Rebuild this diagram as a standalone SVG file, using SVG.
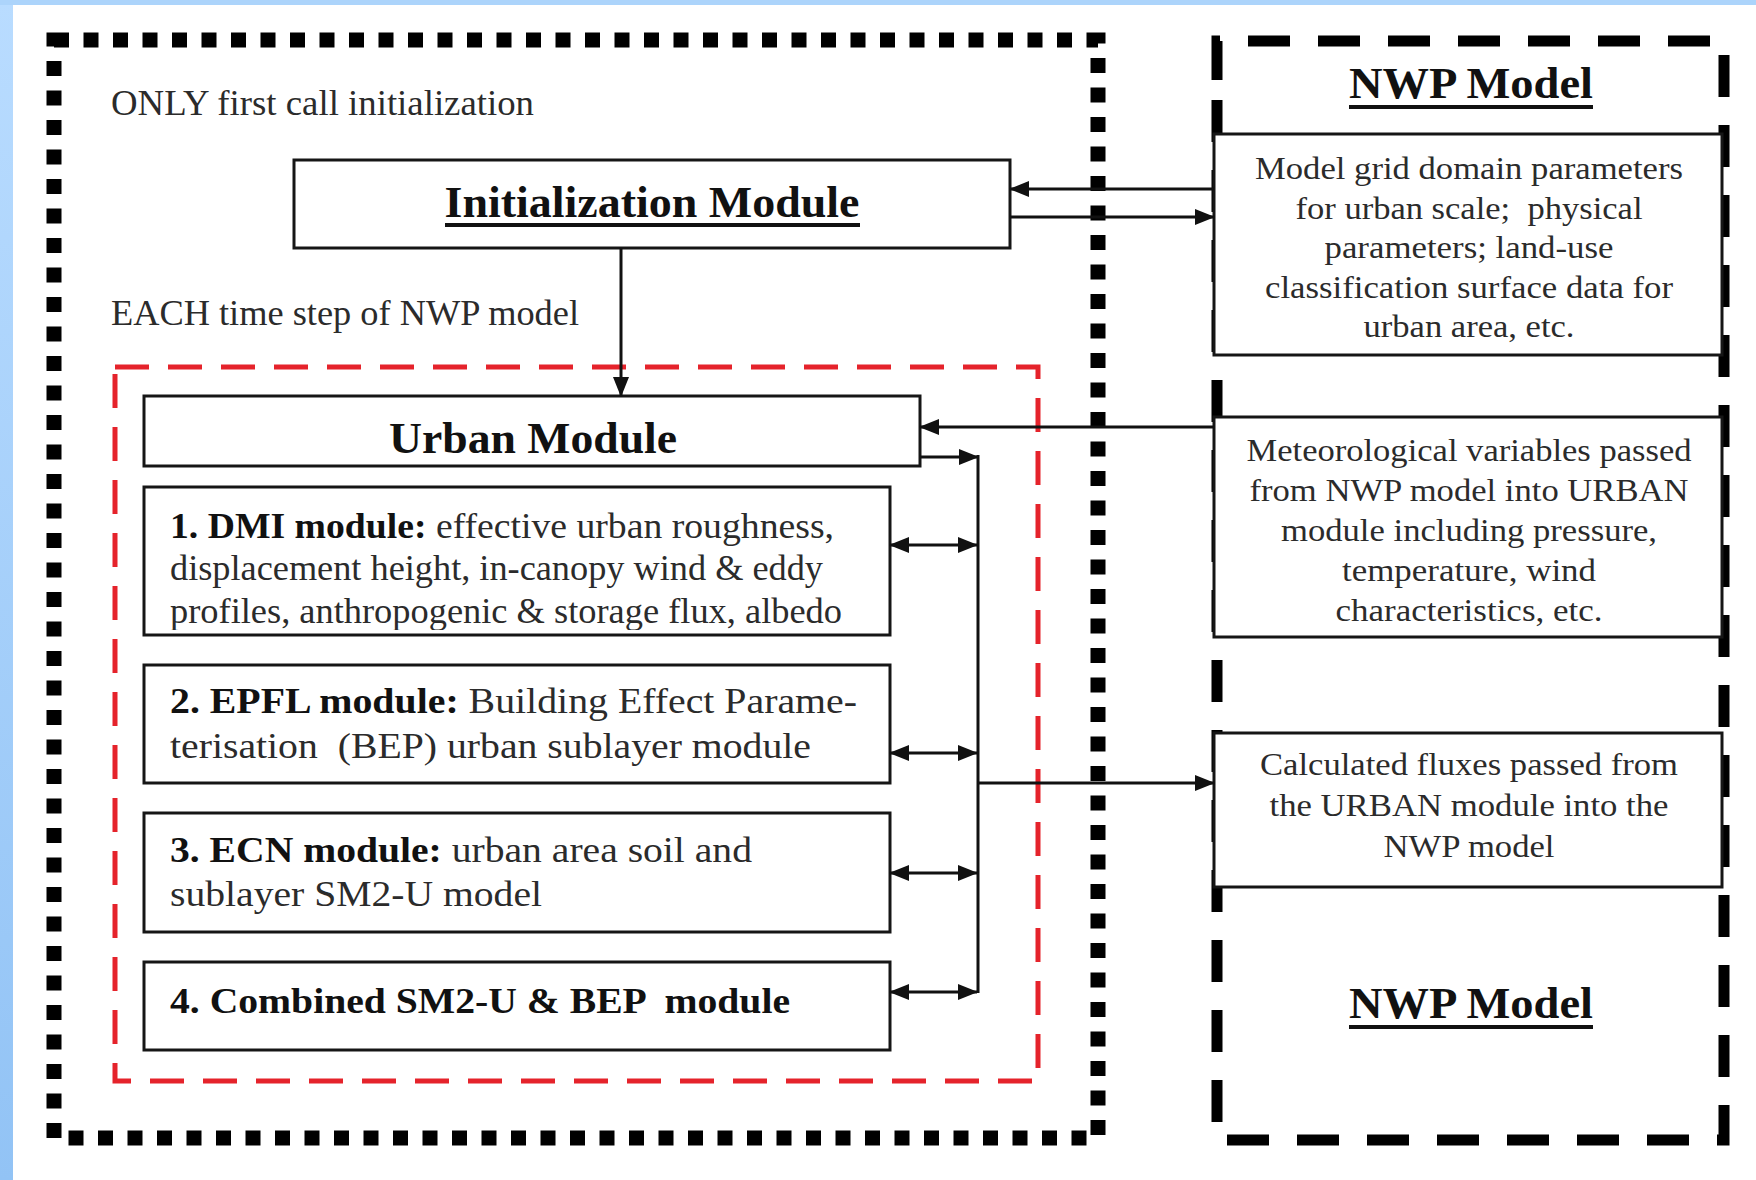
<svg xmlns="http://www.w3.org/2000/svg" width="1756" height="1180" viewBox="0 0 1756 1180">
<defs>
<linearGradient id="bg" x1="0" y1="0" x2="0" y2="1">
<stop offset="0" stop-color="#b9dcff"/>
<stop offset="1" stop-color="#92c3f5"/>
</linearGradient>
<marker id="ah" viewBox="0 0 20 16" refX="19" refY="8" markerWidth="20" markerHeight="16" orient="auto-start-reverse" markerUnits="userSpaceOnUse">
<path d="M0,0 L20,8 L0,16 Z" fill="#111"/>
</marker>
<clipPath id="dmiclip"><rect x="145" y="488" width="744" height="142"/></clipPath>
<style>
.t{font-family:"Liberation Serif","Times New Roman",serif;fill:#2b2b2b}
.b{font-weight:bold;fill:#111}
.body{font-size:35px}
.rt{font-size:32px;text-anchor:middle}
.ttl{font-size:44px;font-weight:bold;text-anchor:middle;fill:#111}
.box{fill:#fff;stroke:#161616;stroke-width:3}
.ul{stroke:#111;stroke-width:4}
.con{fill:none;stroke:#111;stroke-width:3}
</style>
</defs>
<rect width="1756" height="1180" fill="#fff"/>
<rect x="0" y="0" width="13" height="1180" fill="url(#bg)"/>
<rect x="0" y="0" width="1756" height="5" fill="#acd4fb"/>

<g id="outer-frame">
<path d="M54,40 H1098 V1138 H54 Z" fill="none" stroke="#000" stroke-width="15" stroke-dasharray="15 14.5"/>
</g>
<g id="urban-frame">
<rect x="115" y="367" width="923" height="714" fill="none" stroke="#e5232b" stroke-width="5" stroke-dasharray="34 19"/>
</g>
<g id="nwp-frame">
<path d="M1217,80 V41 H1724 V1140 H1217 Z" fill="none" stroke="#000" stroke-width="11" stroke-dasharray="42 28"/>
</g>

<g id="label-first-call">
<text class="t body" x="111" y="115" textLength="423" lengthAdjust="spacingAndGlyphs">ONLY first call initialization</text>
</g>
<g id="label-each-step">
<text class="t body" x="111" y="325" textLength="468" lengthAdjust="spacingAndGlyphs">EACH time step of NWP model</text>
</g>

<g id="init-module">
<rect class="box" x="294" y="160" width="716" height="88"/>
<text class="t ttl" x="652" y="217" textLength="415" lengthAdjust="spacingAndGlyphs">Initialization Module</text>
<line class="ul" x1="445" y1="225" x2="860" y2="225"/>
</g>

<g id="urban-module">
<rect class="box" x="144" y="396" width="776" height="70"/>
<text class="t ttl" x="533" y="453" textLength="288" lengthAdjust="spacingAndGlyphs">Urban Module</text>
</g>

<g id="dmi-module">
<rect class="box" x="144" y="487" width="746" height="148"/>
<g clip-path="url(#dmiclip)">
<text class="t body" x="170" y="538" textLength="664" lengthAdjust="spacingAndGlyphs"><tspan class="b">1. DMI module:</tspan> effective urban roughness,</text>
<text class="t body" x="170" y="580" textLength="653" lengthAdjust="spacingAndGlyphs">displacement height, in-canopy wind &amp; eddy</text>
<text class="t body" x="170" y="623" textLength="672" lengthAdjust="spacingAndGlyphs">profiles, anthropogenic &amp; storage flux, albedo</text>
</g>
</g>

<g id="epfl-module">
<rect class="box" x="144" y="665" width="746" height="118"/>
<text class="t body" x="170" y="713" textLength="687" lengthAdjust="spacingAndGlyphs"><tspan class="b">2. EPFL module:</tspan> Building Effect Parame-</text>
<text class="t body" x="170" y="758" textLength="641" lengthAdjust="spacingAndGlyphs" xml:space="preserve">terisation  (BEP) urban sublayer module</text>
</g>

<g id="ecn-module">
<rect class="box" x="144" y="813" width="746" height="119"/>
<text class="t body" x="170" y="862" textLength="582" lengthAdjust="spacingAndGlyphs"><tspan class="b">3. ECN module:</tspan> urban area soil and</text>
<text class="t body" x="170" y="906" textLength="372" lengthAdjust="spacingAndGlyphs">sublayer SM2-U model</text>
</g>

<g id="combined-module">
<rect class="box" x="144" y="962" width="746" height="88"/>
<text class="t body b" x="170" y="1013" textLength="620" lengthAdjust="spacingAndGlyphs" xml:space="preserve">4. Combined SM2-U &amp; BEP  module</text>
</g>

<g id="nwp-title-top">
<text class="t ttl" x="1471" y="98" font-size="42" textLength="244" lengthAdjust="spacingAndGlyphs">NWP Model</text>
<line class="ul" x1="1349" y1="107" x2="1593" y2="107"/>
</g>

<g id="grid-params">
<rect class="box" x="1214" y="134" width="508" height="221"/>
<text class="t rt" x="1469" y="179" textLength="428" lengthAdjust="spacingAndGlyphs">Model grid domain parameters</text>
<text class="t rt" x="1469" y="219" textLength="347" lengthAdjust="spacingAndGlyphs" xml:space="preserve">for urban scale;  physical</text>
<text class="t rt" x="1469" y="258" textLength="289" lengthAdjust="spacingAndGlyphs">parameters; land-use</text>
<text class="t rt" x="1469" y="298" textLength="408" lengthAdjust="spacingAndGlyphs">classification surface data for</text>
<text class="t rt" x="1469" y="337" textLength="211" lengthAdjust="spacingAndGlyphs">urban area, etc.</text>
</g>

<g id="met-variables">
<rect class="box" x="1214" y="417" width="508" height="220"/>
<text class="t rt" x="1469" y="461" textLength="445" lengthAdjust="spacingAndGlyphs">Meteorological variables passed</text>
<text class="t rt" x="1469" y="501" textLength="439" lengthAdjust="spacingAndGlyphs">from NWP model into URBAN</text>
<text class="t rt" x="1469" y="541" textLength="376" lengthAdjust="spacingAndGlyphs">module including pressure,</text>
<text class="t rt" x="1469" y="581" textLength="254" lengthAdjust="spacingAndGlyphs">temperature, wind</text>
<text class="t rt" x="1469" y="621" textLength="267" lengthAdjust="spacingAndGlyphs">characteristics, etc.</text>
</g>

<g id="calc-fluxes">
<rect class="box" x="1214" y="733" width="508" height="154"/>
<text class="t rt" x="1469" y="775" textLength="418" lengthAdjust="spacingAndGlyphs">Calculated fluxes passed from</text>
<text class="t rt" x="1469" y="816" textLength="399" lengthAdjust="spacingAndGlyphs">the URBAN module into the</text>
<text class="t rt" x="1469" y="857" textLength="171" lengthAdjust="spacingAndGlyphs">NWP model</text>
</g>

<g id="nwp-title-bottom">
<text class="t ttl" x="1471" y="1018" font-size="42" textLength="244" lengthAdjust="spacingAndGlyphs">NWP Model</text>
<line class="ul" x1="1349" y1="1027" x2="1593" y2="1027"/>
</g>

<g id="connectors">
<line class="con" x1="1214" y1="189" x2="1010" y2="189" marker-end="url(#ah)"/>
<line class="con" x1="1010" y1="217" x2="1214" y2="217" marker-end="url(#ah)"/>
<line class="con" x1="621" y1="248" x2="621" y2="396" marker-end="url(#ah)"/>
<line class="con" x1="1214" y1="427" x2="920" y2="427" marker-end="url(#ah)"/>
<line class="con" x1="920" y1="457" x2="978" y2="457" marker-end="url(#ah)"/>
<line class="con" x1="978" y1="455" x2="978" y2="993"/>
<line class="con" x1="890" y1="545" x2="977" y2="545" marker-start="url(#ah)" marker-end="url(#ah)"/>
<line class="con" x1="890" y1="753" x2="977" y2="753" marker-start="url(#ah)" marker-end="url(#ah)"/>
<line class="con" x1="890" y1="873" x2="977" y2="873" marker-start="url(#ah)" marker-end="url(#ah)"/>
<line class="con" x1="890" y1="992" x2="977" y2="992" marker-start="url(#ah)" marker-end="url(#ah)"/>
<line class="con" x1="978" y1="783" x2="1214" y2="783" marker-end="url(#ah)"/>
</g>
</svg>
